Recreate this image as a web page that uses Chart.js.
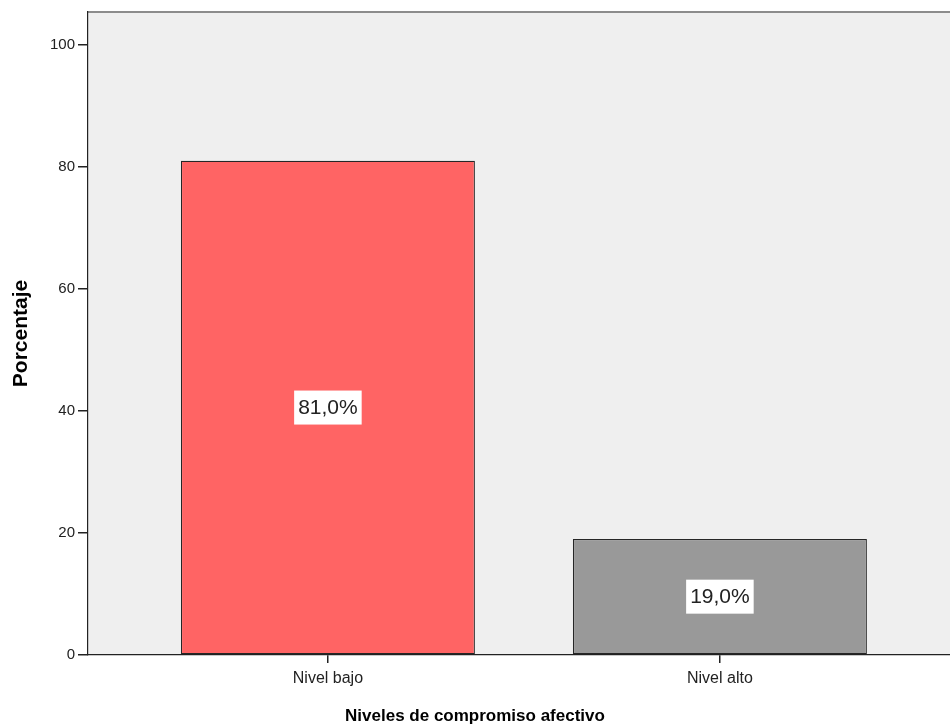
<!DOCTYPE html>
<html>
<head>
<meta charset="utf-8">
<script src="https://cdn.jsdelivr.net/npm/chart.js@4/dist/chart.umd.min.js"></script>
<style>
  html, body { margin: 0; padding: 0; background: #fff; overflow: hidden; }
  #wrap { width: 950px; height: 725px; }
</style>
</head>
<body>
<div id="wrap"><canvas id="grafico"></canvas></div>
<script>
// niveles y porcentaje de cada uno
const categorias = ['Nivel bajo', 'Nivel alto'];
const porcentajes = [81.0, 19.0];
const colores = ['#ff6464', '#999999'];
const ticksY = [0, 20, 40, 60, 80, 100];

const fuente = 'Arial, "Liberation Sans", sans-serif';

// fondo gris del area del grafico y borde superior
const fondoPlugin = {
  id: 'fondo',
  beforeDraw(chart) {
    const { ctx, chartArea: a } = chart;
    ctx.save();
    ctx.fillStyle = '#efefef';
    ctx.fillRect(a.left, a.top, a.right - a.left, a.bottom - a.top);
    ctx.strokeStyle = '#8c8c8c';
    ctx.lineWidth = 2;
    ctx.beginPath();
    ctx.moveTo(a.left, a.top);
    ctx.lineTo(a.right, a.top);
    ctx.stroke();
    ctx.restore();
  }
};

// etiqueta con el porcentaje en medio de cada barra
const etiquetasPlugin = {
  id: 'etiquetas',
  afterDatasetsDraw(chart) {
    const { ctx } = chart;
    const meta = chart.getDatasetMeta(0);
    ctx.save();
    ctx.font = '21px ' + fuente;
    ctx.textAlign = 'center';
    ctx.textBaseline = 'middle';
    meta.data.forEach((bar, i) => {
      const texto = porcentajes[i].toFixed(1).replace('.', ',') + '%';
      const cx = bar.x;
      const cy = (bar.y + bar.base) / 2;
      const w = ctx.measureText(texto).width + 8;
      const h = 34;
      ctx.fillStyle = '#ffffff';
      ctx.fillRect(cx - w / 2, cy - h / 2, w, h);
      ctx.fillStyle = '#222';
      ctx.fillText(texto, cx, cy + 1);
    });
    ctx.restore();
  }
};

new Chart(document.getElementById('grafico'), {
  type: 'bar',
  data: {
    datasets: [{
      data: porcentajes.map((v, i) => ({ x: i, y: v })),
      backgroundColor: colores,
      borderColor: '#262626',
      borderWidth: 1.2,
      borderSkipped: false,
      categoryPercentage: 1,
      barPercentage: 0.75
    }]
  },
  options: {
    responsive: true,
    maintainAspectRatio: false,
    animation: false,
    layout: { padding: { top: 10, left: 0, right: 0, bottom: 0 } },
    plugins: {
      legend: { display: false },
      tooltip: { enabled: false },
      title: {
        display: true,
        position: 'bottom',
        text: 'Niveles de compromiso afectivo',
        color: '#000',
        font: { family: fuente, size: 17, weight: 'bold', lineHeight: 1 },
        padding: 0
      }
    },
    scales: {
      x: {
        type: 'linear',
        offset: false,
        min: -0.612,
        max: 1.587,
        grid: { offset: false, drawOnChartArea: false, drawTicks: true, tickLength: 8, lineWidth: 1.5, color: '#222' },
        border: { display: true, color: '#222', width: 1.2 },
        ticks: {
          stepSize: 1,
          includeBounds: false,
          autoSkip: false,
          maxRotation: 0,
          padding: 6,
          color: '#222',
          font: { family: fuente, size: 16 },
          callback: v => categorias[v]
        },
        afterBuildTicks: s => { s.ticks = s.ticks.filter(t => Number.isInteger(t.value) && t.value >= 0 && t.value < categorias.length); },
        afterFit: s => { s.height = 53; }
      },
      y: {
        min: 0,
        max: 105.4,
        grid: { drawOnChartArea: false, drawTicks: true, tickLength: 10, lineWidth: 1.5, color: '#222' },
        border: { display: true, color: '#222', width: 1.2 },
        ticks: {
          stepSize: 20,
          includeBounds: false,
          padding: 3,
          color: '#222',
          font: { family: fuente, size: 15 }
        },
        afterBuildTicks: s => { s.ticks = ticksY.map(v => ({ value: v })); },
        title: {
          display: true,
          text: 'Porcentaje',
          color: '#000',
          font: { family: fuente, size: 21, weight: 'bold' },
          padding: { top: 9, bottom: 0 }
        },
        afterFit: s => { s.width = 88; }
      }
    }
  },
  plugins: [fondoPlugin, etiquetasPlugin]
});
</script>
</body>
</html>
